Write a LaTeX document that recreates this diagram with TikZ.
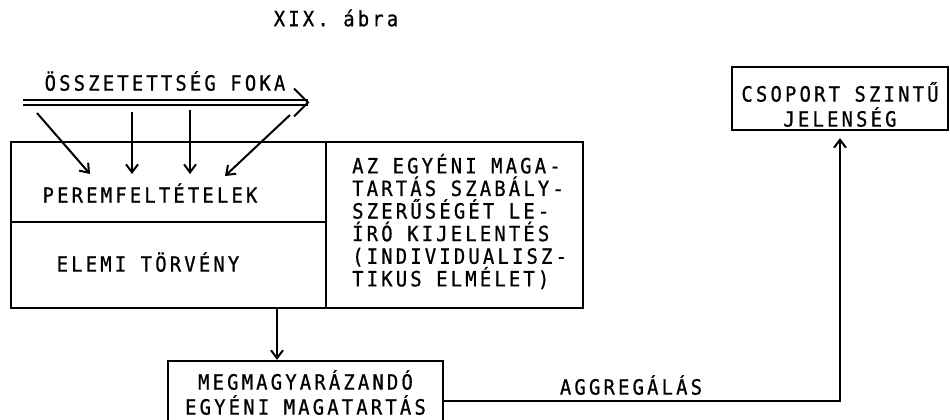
\documentclass[tikz,border=0pt]{standalone}
\usepackage{fontspec}
\newfontfamily\plotfont[LetterSpace=15,FakeStretch=0.9,FakeBold=0.8]{DejaVu Sans Mono}
\usetikzlibrary{arrows.meta}

\newcommand*{\boxleft}{11}
\newcommand*{\boxright}{583}
\newcommand*{\boxtop}{142}
\newcommand*{\boxbottom}{308}
\newcommand*{\colsep}{326}
\newcommand*{\rowsep}{222}

\begin{document}
\begin{tikzpicture}
[
	x=1pt,
	y=-1pt,
	txt/.style={font={\plotfont\fontsize{21}{25}\selectfont},inner sep=0pt},
	framed/.style={draw,line width=2.2pt,inner sep=0pt},
	arr/.style={-{Straight Barb[length=8pt,width=12pt]},line width=2pt}
]

	\useasboundingbox (0,0) rectangle (950,420);

	\node[txt] (title) at (336,18) {XIX. ábra};

	% degree of complexity
	\node[txt] (fok) at (165,81) {ÖSSZETETTSÉG FOKA};
	\coordinate (fok-w) at (23,102.5);
	\coordinate (fok-e) at (308,102.5);
	\draw[double,double distance=3.5pt,line width=1.6pt] (fok-w) -- (fok-e);
	\draw[line width=1.8pt] ([shift={(-14,-14)}]fok-e) -- (fok-e) -- ([shift={(-14,14)}]fok-e);

	% the big box
	\draw[line width=2.2pt] (\boxleft,\boxtop) rectangle (\boxright,\boxbottom);
	\draw[line width=2.2pt] (\colsep,\boxtop) -- (\colsep,\boxbottom);
	\draw[line width=2.2pt] (\boxleft,\rowsep) -- (\colsep,\rowsep);

	\node[txt] (perem) at (150,193) {PEREMFELTÉTELEK};
	\node[txt] (elemi) at (148,262) {ELEMI TÖRVÉNY};
	\node[txt,align=left,anchor=west,font={\plotfont\fontsize{21}{22.6}\selectfont}] (szabaly) at (352,221.5)
	  {AZ EGYÉNI MAGA-\\TARTÁS SZABÁLY-\\SZERŰSÉGÉT LE-\\ÍRÓ KIJELENTÉS\\(INDIVIDUALISZ-\\TIKUS ELMÉLET)};

	% arrows into the boundary conditions
	\foreach \sx/\sy/\ex/\ey [count=\i] in {37/113/90/174, 132/112/132/174, 190/110/190/174, 290/115/225/176} {
		\coordinate (from\i) at (\sx,\sy);
		\coordinate (to\i) at (\ex,\ey);
		\draw[arr] (from\i) -- (to\i);
	}

	% explained behaviour
	\node[txt,framed,align=center,minimum width=275pt,minimum height=63pt] (egyeni) at (305.5,392.5)
	  {MEGMAGYARÁZANDÓ\\EGYÉNI MAGATARTÁS};
	\coordinate (box-s) at (277,\boxbottom);
	\draw[arr] (box-s) -- (box-s |- egyeni.north);

	% group level
	\node[framed,minimum width=216pt,minimum height=63pt] (csoport) at (840,98.5) {};
	\node[txt,align=center] (csoport-txt) at (840,104.5) {CSOPORT SZINTŰ\\JELENSÉG};

	\coordinate (corner) at (840,401);
	\draw[arr,shorten >=7pt] (egyeni.east |- corner) -- (corner) -- (csoport.south);
	\node[txt] (aggr) at (631,385) {AGGREGÁLÁS};

\end{tikzpicture}
\end{document}
